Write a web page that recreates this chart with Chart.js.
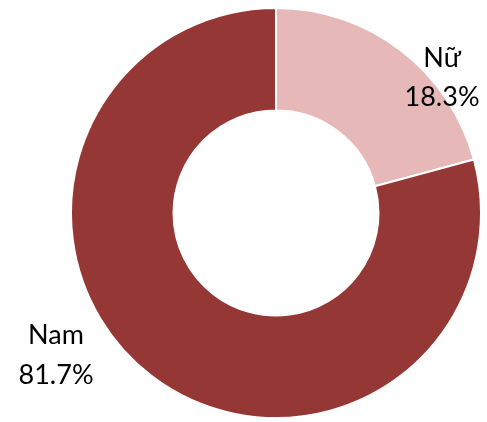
<!DOCTYPE html>
<html>
<head>
<meta charset="utf-8">
<script src="https://cdn.jsdelivr.net/npm/chart.js@4"></script>
<style>
html,body{margin:0;padding:0;background:#fff;}
#wrap{width:487px;height:422px;position:relative;}
</style>
</head>
<body>
<div id="wrap"><canvas id="c" width="487" height="422"></canvas></div>
<script>
const categories = ["Nữ", "Nam"];
// slice sizes as drawn in the reference picture
const values = [20.8, 79.2];
// percentage labels as printed in the reference
const percentLabels = ["18.3%", "81.7%"];
const colors = ["#E6B9B8", "#953735"];

const labelPlugin = {
  id: 'outerLabels',
  afterDatasetsDraw(chart) {
    const ctx = chart.ctx;
    const meta = chart.getDatasetMeta(0);
    const arc = meta.data[0];
    const cx = arc.x, cy = arc.y, r = arc.outerRadius;
    const pos = [
      {x: cx + 0.81 * r, y1: cy - 0.714 * r, y2: cy - 0.524 * r},
      {x: cx - 1.073 * r, y1: cy + 0.641 * r, y2: cy + 0.835 * r}
    ];
    ctx.save();
    ctx.fillStyle = '#000';
    ctx.font = '27px Lato, "Open Sans", sans-serif';
    ctx.textAlign = 'center';
    ctx.textBaseline = 'alphabetic';
    categories.forEach((c, i) => {
      ctx.fillText(c, pos[i].x, pos[i].y1);
      ctx.fillText(percentLabels[i], pos[i].x, pos[i].y2);
    });
    ctx.restore();
  }
};

new Chart(document.getElementById('c'), {
  type: 'doughnut',
  data: {
    labels: categories,
    datasets: [{
      data: values,
      backgroundColor: colors,
      borderColor: '#ffffff',
      borderWidth: 2
    }]
  },
  options: {
    responsive: false,
    animation: false,
    cutout: '50%',
    layout: {padding: {left: 70, right: 5, top: 7, bottom: 3}},
    plugins: {legend: {display: false}, tooltip: {enabled: false}},
    events: []
  },
  plugins: [labelPlugin]
});
</script>
</body>
</html>
